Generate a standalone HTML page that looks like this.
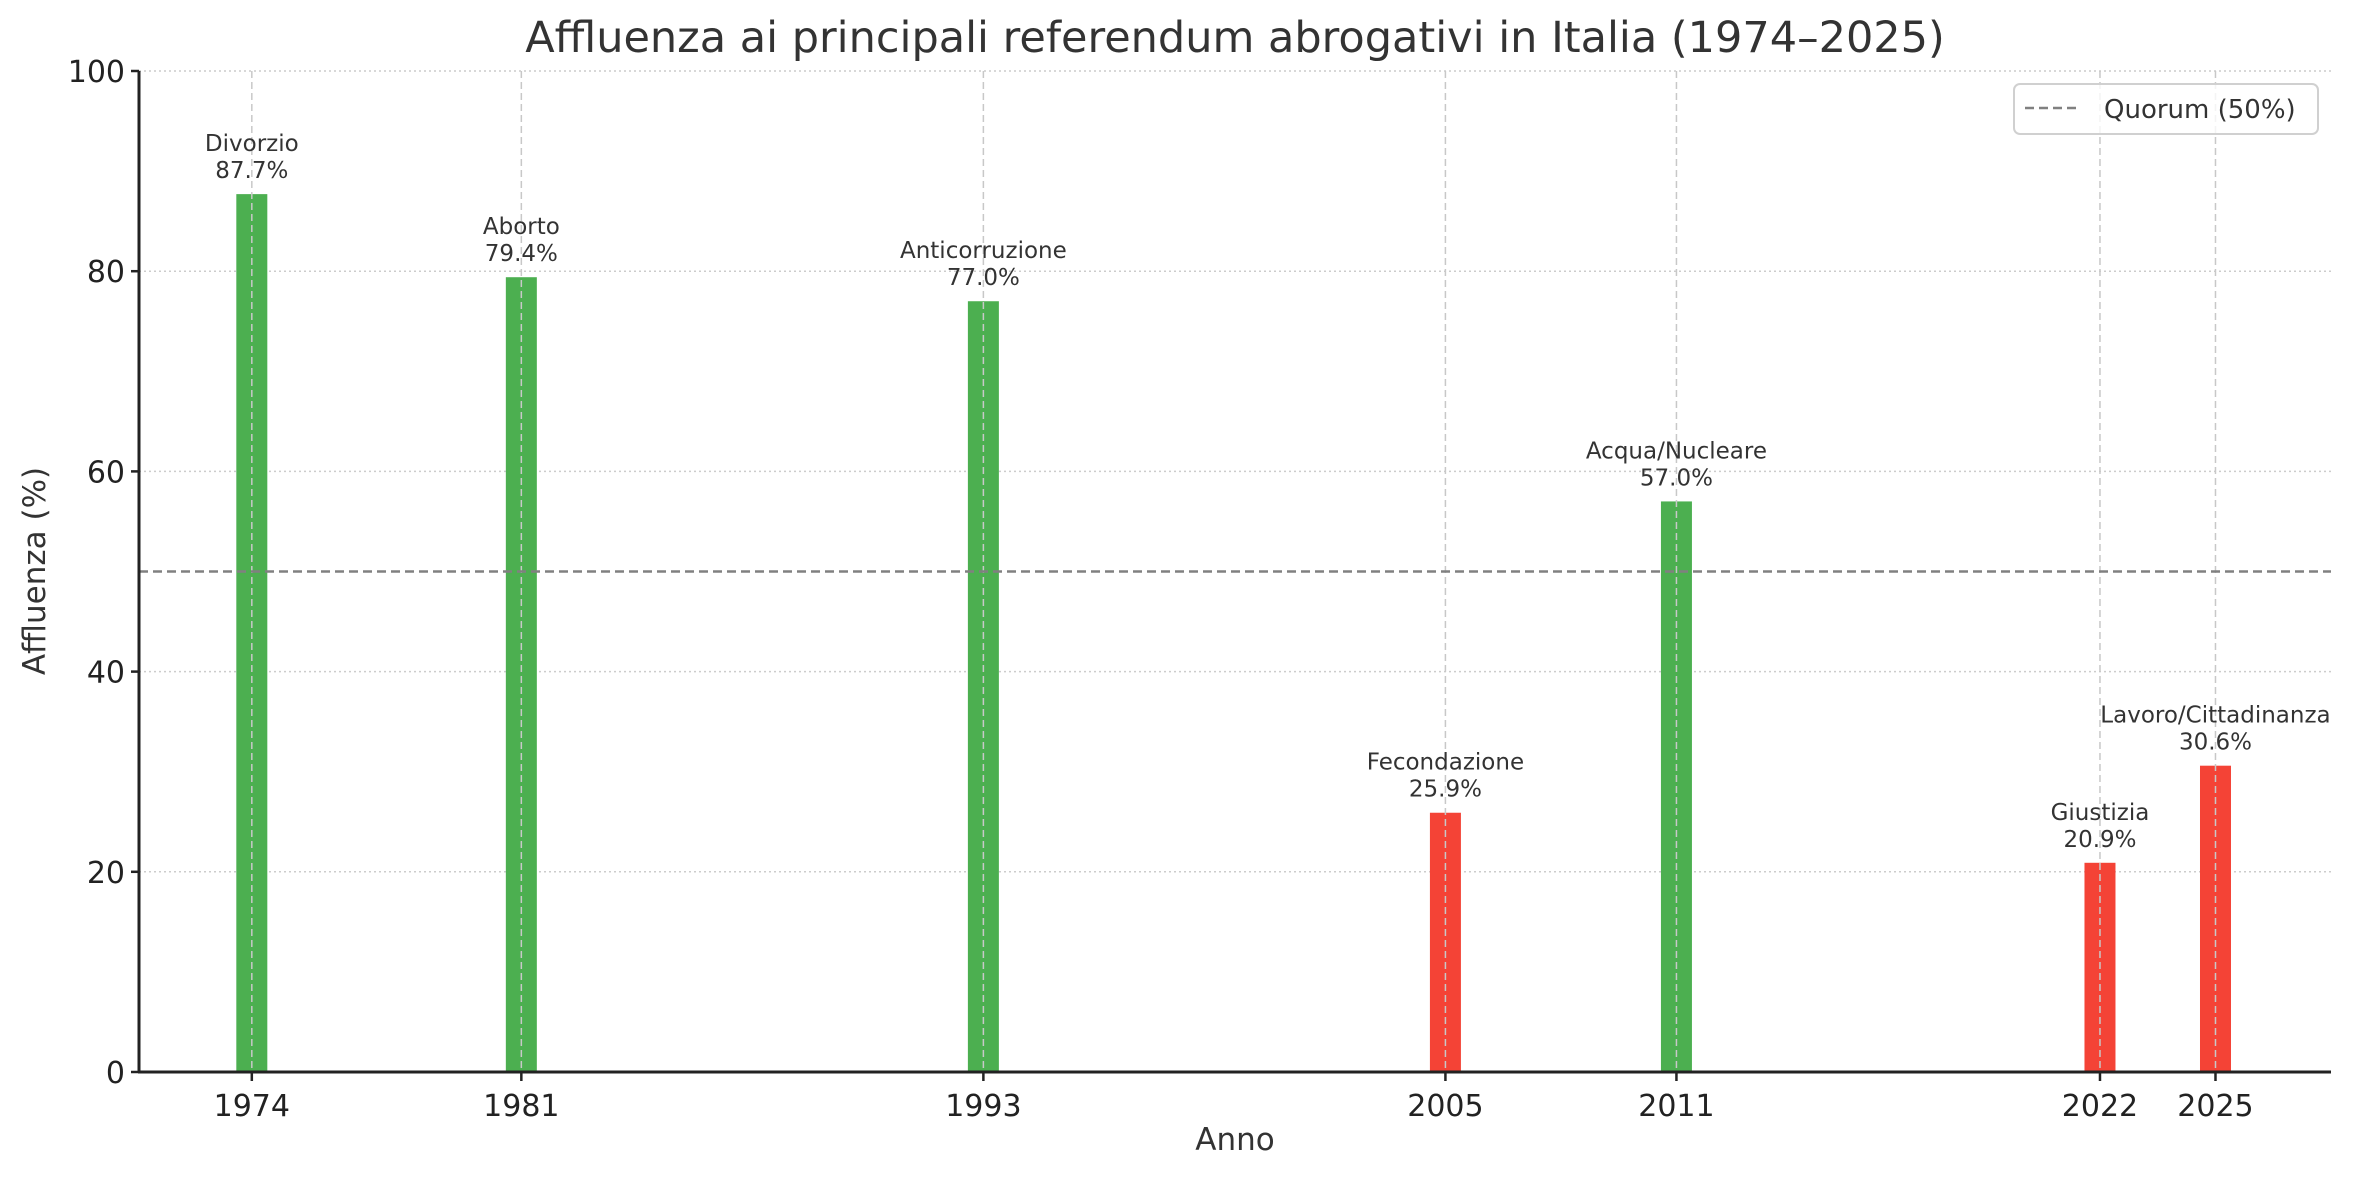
<!DOCTYPE html>
<html><head><meta charset="utf-8">
<style>
html,body{margin:0;padding:0;background:#fff;}
svg{display:block;font-family:"DejaVu Sans","Liberation Sans",sans-serif;}
</style></head>
<body>
<svg id="chart" width="2362" height="1180" viewBox="0 0 2362 1180" xmlns="http://www.w3.org/2000/svg">
<rect width="2362" height="1180" fill="#fff"/>
<text x="1235" y="52" font-size="43" fill="#333" text-anchor="middle">Affluenza ai principali referendum abrogativi in Italia (1974–2025)</text>
<g id="grid"></g>
<g id="bars"></g>
<g id="labels"></g>
<g id="axes"></g>
<text x="1235" y="1150" font-size="31" fill="#333" text-anchor="middle">Anno</text>
<text transform="translate(45,571) rotate(-90)" font-size="31" fill="#333" text-anchor="middle">Affluenza (%)</text>
<g>
<rect x="2014" y="84" width="304" height="50" rx="6" fill="#fff" fill-opacity="0.8" stroke="#d0d0d0" stroke-width="2"/>
<line x1="2025" y1="108" x2="2081" y2="108" stroke="#808080" stroke-width="2.5" stroke-dasharray="9,5"/>
<text x="2104" y="118" font-size="26" fill="#333">Quorum (50%)</text>
</g>
</svg>
<script>
const years = [1974, 1981, 1993, 2005, 2011, 2022, 2025];
const turnout = [87.7, 79.4, 77.0, 25.9, 57.0, 20.9, 30.6];
const topics = ["Divorzio", "Aborto", "Anticorruzione", "Fecondazione", "Acqua/Nucleare", "Giustizia", "Lavoro/Cittadinanza"];
const yTicks = [0, 20, 40, 60, 80, 100];
const quorum = 50;

const L = 139, R = 2331, T = 71, B = 1072;
const xMin = 1971.07, xMax = 2028.0;
const x = v => L + (v - xMin) / (xMax - xMin) * (R - L);
const y = v => B - v / 100 * (B - T);
const NS = "http://www.w3.org/2000/svg";
function mk(tag, attrs, parent, text) {
  const e = document.createElementNS(NS, tag);
  for (const k in attrs) e.setAttribute(k, attrs[k]);
  if (text !== undefined) e.textContent = text;
  parent.appendChild(e);
  return e;
}
const grid = document.getElementById('grid'), bars = document.getElementById('bars'),
      labels = document.getElementById('labels'), axes = document.getElementById('axes');

yTicks.forEach(t => {
  if (t > 0) {
    const g = mk('line', {x1: L, x2: R, y1: y(t), y2: y(t), stroke: '#cccccc', 'stroke-width': 1.5, 'stroke-dasharray': '2,3'}, grid);
    
    
  }
  mk('line', {x1: L - 8, x2: L, y1: y(t), y2: y(t), stroke: '#222', 'stroke-width': 2.5}, axes);
  const tl = mk('text', {x: L - 14, y: y(t) + 11, 'font-size': 30, fill: '#222', 'text-anchor': 'end'}, axes, String(t));
  
  
});

years.forEach((yr, i) => {
  const cx = x(yr), w = 31;
  const v = turnout[i];
  const b = mk('rect', {x: cx - w / 2, y: y(v), width: w, height: B - y(v), fill: v >= quorum ? '#4caf50' : '#f44336'}, bars);
  
  
  const vg = mk('line', {x1: cx, x2: cx, y1: T, y2: B, stroke: '#c8c8c8', 'stroke-width': 1.5, 'stroke-dasharray': '7,4'}, bars);
  
  
  const t1 = mk('text', {x: cx, y: y(v) - 43, 'font-size': 23, fill: '#333', 'text-anchor': 'middle'}, labels, topics[i]);
  
  
  const t2 = mk('text', {x: cx, y: y(v) - 16, 'font-size': 23, fill: '#333', 'text-anchor': 'middle'}, labels, v.toFixed(1) + '%');
  
  
  mk('line', {x1: cx, x2: cx, y1: B, y2: B + 9, stroke: '#222', 'stroke-width': 2.5}, axes);
  const xl = mk('text', {x: cx, y: B + 44, 'font-size': 30, fill: '#222', 'text-anchor': 'middle'}, axes, String(yr));
  
  
});

const q = mk('line', {x1: L, x2: R, y1: y(quorum), y2: y(quorum), stroke: '#808080', 'stroke-width': 2.5, 'stroke-dasharray': '9,5'}, labels);



const ya = mk('line', {x1: L, x2: L, y1: T, y2: B + 1, stroke: '#222', 'stroke-width': 3}, axes);


const xa = mk('line', {x1: L - 1, x2: R, y1: B, y2: B, stroke: '#222', 'stroke-width': 3}, axes);


</script>
</body></html>
